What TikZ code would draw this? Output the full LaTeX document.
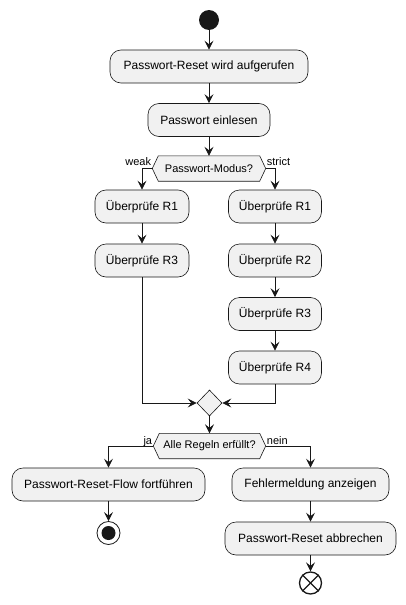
\documentclass[tikz,border=0pt]{standalone}
\usepackage{fontspec}
\setmainfont{Liberation Sans}
\usetikzlibrary{arrows.meta,calc,shapes.geometric,backgrounds}
\definecolor{boxfill}{HTML}{F1F1F1}
\definecolor{ln}{HTML}{181818}
\newcommand\drawhex[2]{%
  \begin{scope}[on background layer]
    \draw[draw=ln,fill=boxfill,line width=0.6pt]
      (#1.west) -- ($(#1.north west)+(#2,0)$) -- ($(#1.north east)+(-#2,0)$)
      -- (#1.east) -- ($(#1.south east)+(-#2,0)$) -- ($(#1.south west)+(#2,0)$) -- cycle;
  \end{scope}}
\begin{document}
\begin{tikzpicture}[x=1pt,y=-1pt,
  act/.style={rectangle, rounded corners=11pt, draw=ln, fill=boxfill, line width=0.6pt,
    minimum height=33pt, inner sep=0pt, font=\fontsize{12}{14}\selectfont},
  hexa/.style={rectangle, minimum height=25pt, inner sep=0pt, font=\fontsize{11}{13}\selectfont},
  arr/.style={draw=ln, line width=0.8pt, -{Stealth[length=9pt,width=9pt,inset=3.5pt]}},
  lbl/.style={font=\fontsize{11}{13}\selectfont, inner sep=0pt}]
\useasboundingbox (0,0) rectangle (406,605);

\node[circle, fill=ln, minimum size=20pt, inner sep=0pt] (start) at (209,20) {};
\node[act, minimum width=198pt] (b1) at (209,66.5) {Passwort-Reset wird aufgerufen};
\node[act, minimum width=122pt] (b2) at (209,120) {Passwort einlesen};
\node[hexa, minimum width=113pt] (d1) at (209,168.5) {Passwort-Modus?};
\drawhex{d1}{6}

\node[act, minimum width=94pt] (l1) at (142,206.5) {Überprüfe R1};
\node[act, minimum width=94pt] (l3) at (142,260.5) {Überprüfe R3};

\node[act, minimum width=93pt] (r1) at (275,206.5) {Überprüfe R1};
\node[act, minimum width=93pt] (r2) at (275,260.5) {Überprüfe R2};
\node[act, minimum width=93pt] (r3) at (275,314) {Überprüfe R3};
\node[act, minimum width=93pt] (r4) at (275,367.5) {Überprüfe R4};

\node[diamond, draw=ln, fill=boxfill, line width=0.6pt, minimum width=25pt, minimum height=26pt, inner sep=0pt] (m) at (209.5,403) {};

\node[hexa, minimum width=112pt, minimum height=25pt] (d2) at (209.5,446) {Alle Regeln erfüllt?};
\drawhex{d2}{6}

\node[act, minimum width=193pt] (ok) at (108.5,484.5) {Passwort-Reset-Flow fortführen};
\node[act, minimum width=157pt] (err) at (310.5,484.5) {Fehlermeldung anzeigen};
\node[act, minimum width=171pt] (abort) at (310.5,538.5) {Passwort-Reset abbrechen};

\node[circle, draw=ln, fill=white, line width=0.8pt, minimum size=23pt, inner sep=0pt] (end) at (108.5,533) {};
\node[circle, fill=ln, minimum size=14pt, inner sep=0pt] (endin) at (end) {};
\node[circle, draw=ln, line width=1.3pt, minimum size=22pt, inner sep=0pt] (stop) at (310.5,583) {};
\draw[ln, line width=1.3pt] (stop.north west) -- (stop.south east);
\draw[ln, line width=1.3pt] (stop.north east) -- (stop.south west);

\node[lbl, anchor=base east] (lweak) at ($(d1.west)+(-1,-3)$) {weak};
\node[lbl, anchor=base west] (lstrict) at ($(d1.east)+(1,-3)$) {strict};
\node[lbl, anchor=base east] (lja) at ($(d2.west)+(-1,-2)$) {ja};
\node[lbl, anchor=base west] (lnein) at ($(d2.east)+(1,-2)$) {nein};

\draw[arr] (start) -- (b1);
\draw[arr] (b1) -- (b2);
\draw[arr] (b2) -- (d1);
\draw[arr] (d1.west) -| (l1.north);
\draw[arr] (d1.east) -| (r1.north);
\draw[arr] (l1) -- (l3);
\draw[arr] (r1) -- (r2);
\draw[arr] (r2) -- (r3);
\draw[arr] (r3) -- (r4);
\draw[arr] (l3.south) |- (m.west);
\draw[arr] (r4.south) |- (m.east);
\draw[arr] (m.south) -- (d2.north);
\draw[arr] (d2.west) -| (ok.north);
\draw[arr] (d2.east) -| (err.north);
\draw[arr] (ok.south) -- (end.north);
\draw[arr] (err) -- (abort);
\draw[arr] (abort.south) -- (stop.north);
\end{tikzpicture}
\end{document}
